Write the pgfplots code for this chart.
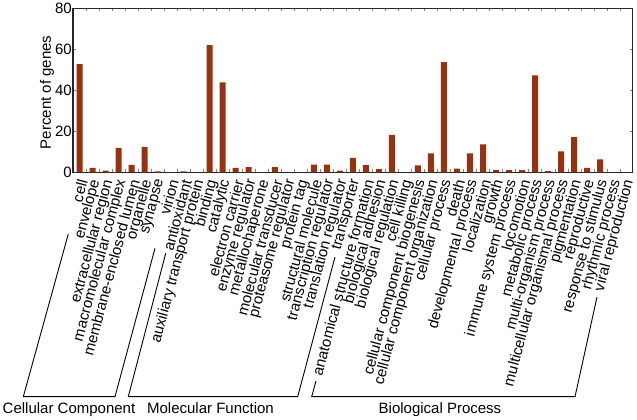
\documentclass[border=0pt]{standalone}
\usepackage{fontspec}
\setmainfont{Liberation Sans}
\usepackage{pgfplots}
\pgfplotsset{compat=1.18}
\definecolor{barc}{RGB}{150,50,15}
\begin{document}
\begin{tikzpicture}
\useasboundingbox (0,0) rectangle (637bp,420bp);
\begin{axis}[
  at={(73bp,247.7bp)}, anchor=south west,
  scale only axis, width=559.7bp, height=164bp,
  xmin=-0.5, xmax=42.5, ymin=0, ymax=80,
  ytick={0,20,40,60,80},
  xtick={0,...,42},
  xticklabels={cell,envelope,extracellular region,macromolecular complex,membrane-enclosed lumen,organelle,synapse,virion,antioxidant,auxiliary transport protein,binding,catalytic,electron carrier,enzyme regulator,metallochaperone,molecular transducer,proteasome regulator,protein tag,structural molecule,transcription regulator,translation regulator,transporter,anatomical structure formation,biological adhesion,biological regulation,cell killing,cellular component biogenesis,cellular component organization,cellular process,death,developmental process,localization,growth,immune system process,locomotion,metabolic process,multi-organism process,multicellular organismal process,pigmentation,reproductive,response to stimulus,rhythmic process,viral reproduction},
  minor xtick={0.5,1.5,...,41.5},
  major x tick style={draw=none},
  tick align=inside,
  major tick length=3bp, minor tick length=3bp,
  axis line style={line width=1.2bp, black!85},
  /pgf/number format/assume math mode=true,
  tick label style={font=\fontsize{15bp}{15bp}\selectfont},
  yticklabel style={inner sep=1bp},
  xticklabel style={xshift=3.5bp, yshift=-6.5bp, rotate=75, anchor=east, inner sep=1bp},
  ylabel={Percent of genes},
  ylabel style={font=\fontsize{15bp}{15bp}\selectfont, at={(axis description cs:-0.0465,0.487)}, anchor=center},
]
\addplot[ybar, bar width=6bp, fill=barc, draw=none] coordinates {
(0,52.8) (1,2.1) (2,0.8) (3,11.9) (4,3.6) (5,12.3) (6,0.5) (7,0)
(8,0.4) (9,0) (10,62.0) (11,43.9) (12,2.1) (13,2.5) (14,0) (15,2.5)
(16,0) (17,0) (18,3.7) (19,3.7) (20,0.8) (21,7.0)
(22,3.5) (23,1.6) (24,18.2) (25,0) (26,3.4) (27,9.2) (28,53.7) (29,1.8)
(30,9.2) (31,13.6) (32,1.1) (33,1.1) (34,1.1) (35,47.3) (36,0.6) (37,10.2)
(38,17.1) (39,2.1) (40,6.3) (41,0) (42,0)
};
\end{axis}
\begin{scope}[line width=0.9bp]
\draw (68.3bp,186bp) -- (23.3bp,23.3bp) -- (115bp,23.3bp) -- (155bp,171.7bp);
\draw (165.7bp,166.7bp) -- (128.3bp,23.3bp) -- (297.7bp,23.3bp) -- (335bp,163bp);
\draw (316bp,39bp) -- (311.7bp,23.3bp) -- (575bp,23.3bp) -- (597bp,123bp);
\end{scope}
\begin{scope}[font=\fontsize{15bp}{15bp}\selectfont]
\node[anchor=base] at (69bp,6.7bp) {Cellular Component};
\node[anchor=base] at (210.5bp,6.7bp) {Molecular Function};
\node[anchor=base] at (440bp,6.7bp) {Biological Process};
\end{scope}
\end{tikzpicture}
\end{document}
